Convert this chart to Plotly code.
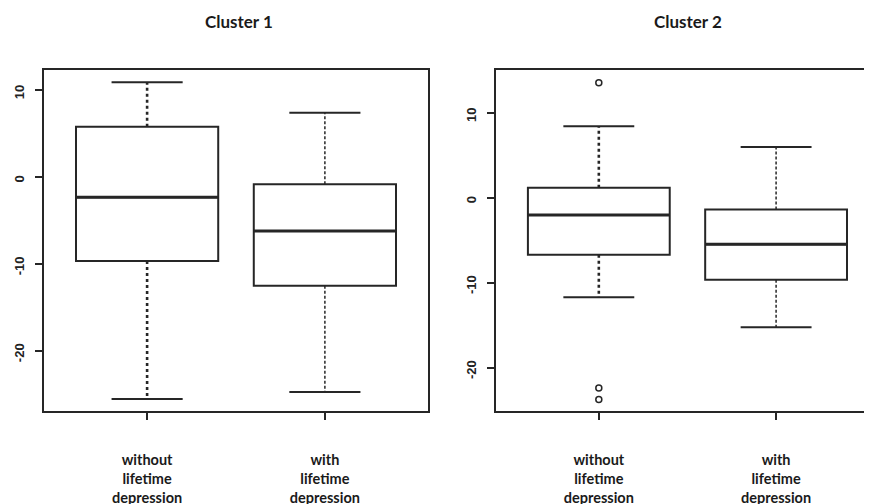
import plotly.graph_objects as go

# ---------------- data ----------------
categories = ["without lifetime depression", "with lifetime depression"]
positions = [1, 2]

c1_lower = [-25.56, -24.75]
c1_q1 = [-9.68, -12.52]
c1_median = [-2.35, -6.23]
c1_q3 = [5.78, -0.85]
c1_upper = [10.89, 7.39]

c2_lower = [-11.71, -15.25]
c2_q1 = [-6.73, -9.67]
c2_median = [-2.05, -5.47]
c2_q3 = [1.17, -1.38]
c2_upper = [8.40, 5.96]

c2_outlier_group = [1, 1, 1]
c2_outlier_values = [13.54, -22.40, -23.77]

titles = ["Cluster 1", "Cluster 2"]
y_ticks = [-20, -10, 0, 10]

# ---------------- style ----------------
INK = "#262626"
BOX_W = 0.8
CAP_HALF = 0.2
whisker_styles = [dict(dash="dot", width=2.6), dict(dash="3px,2px", width=1.5)]

fig = go.Figure()


def add_panel(xa, ya, lower, q1, med, q3, upper):
    for i, p in enumerate(positions):
        fig.add_trace(go.Box(
            x=[p], q1=[q1[i]], median=[med[i]], q3=[q3[i]],
            lowerfence=[q1[i]], upperfence=[q3[i]],
            width=BOX_W, whiskerwidth=0, fillcolor="white",
            line=dict(color=INK, width=2), xaxis=xa, yaxis=ya,
            showlegend=False, hoverinfo="skip", boxpoints=False,
        ))
        fig.add_trace(go.Scatter(
            x=[p - BOX_W / 2, p + BOX_W / 2], y=[med[i], med[i]],
            mode="lines", line=dict(color=INK, width=3),
            xaxis=xa, yaxis=ya, showlegend=False, hoverinfo="skip",
        ))
        for a, b in ((q3[i], upper[i]), (q1[i], lower[i])):
            fig.add_trace(go.Scatter(
                x=[p, p], y=[a, b], mode="lines",
                line=dict(color=INK, **whisker_styles[i]),
                xaxis=xa, yaxis=ya, showlegend=False, hoverinfo="skip",
            ))
        for v in (upper[i], lower[i]):
            fig.add_trace(go.Scatter(
                x=[p - CAP_HALF, p + CAP_HALF], y=[v, v], mode="lines",
                line=dict(color=INK, width=2),
                xaxis=xa, yaxis=ya, showlegend=False, hoverinfo="skip",
            ))


add_panel("x", "y", c1_lower, c1_q1, c1_median, c1_q3, c1_upper)
add_panel("x2", "y2", c2_lower, c2_q1, c2_median, c2_q3, c2_upper)

fig.add_trace(go.Scatter(
    x=c2_outlier_group, y=c2_outlier_values, mode="markers",
    marker=dict(symbol="circle-open", size=6, color=INK, line=dict(width=1.5)),
    xaxis="x2", yaxis="y2", showlegend=False, hoverinfo="skip",
))

ticktext = ["<b>%s</b>" % c.replace(" ", "<br>") for c in categories]
yticktext = ["<b>%d</b>" % v for v in y_ticks]
xfont = dict(family="Lato, Open Sans, sans-serif", size=14.5, color="#1a1a1a")
yfont = dict(family="Liberation Sans, Arial, sans-serif", size=13, color="#222")

common_x = dict(
    tickmode="array", tickvals=positions, ticktext=ticktext,
    ticks="outside", ticklen=7, tickwidth=1.5, tickcolor=INK,
    showline=True, linecolor=INK, linewidth=2,
    showgrid=False, zeroline=False, tickfont=xfont,
    ticklabelstandoff=28, fixedrange=True, automargin=False,
)
common_y = dict(
    tickmode="array", tickvals=y_ticks, ticktext=yticktext,
    ticks="outside", ticklen=7, tickwidth=1.5, tickcolor=INK,
    showline=True, linecolor=INK, linewidth=2,
    showgrid=False, zeroline=False, tickfont=yfont, tickangle=-90,
    ticklabelstandoff=6, ticklabelshift=4, fixedrange=True, automargin=False,
)

# page body has an 8px default margin; work in window pixels and offset
OFF = 8
W, H = 872 - OFF, 504 - OFF


def px_x(v):
    return (v - OFF) / W


def px_y(v):
    return (H - (v - OFF)) / H


tfont = dict(family="Lato, Open Sans, sans-serif", size=17, color="#1a1a1a")
fig.update_layout(
    width=W, height=H,
    margin=dict(l=0, r=0, t=0, b=0),
    paper_bgcolor="white", plot_bgcolor="white",
    xaxis=dict(domain=[px_x(44), px_x(428)], range=[0.42, 2.58], mirror=True, anchor="y", **common_x),
    yaxis=dict(domain=[px_y(411), px_y(70)], range=[-26.94, 12.30], mirror=True, anchor="x", **common_y),
    xaxis2=dict(domain=[px_x(496), 1.0], range=[0.42, 2.541], mirror=True, anchor="y2", **common_x),
    yaxis2=dict(domain=[px_y(411), px_y(70)], range=[-25.11, 15.03], mirror=False, anchor="x2", **common_y),
    annotations=[
        dict(text="<b>%s</b>" % titles[0], x=px_x(239), y=px_y(22), xref="paper", yref="paper",
             showarrow=False, xanchor="center", yanchor="middle", font=tfont),
        dict(text="<b>%s</b>" % titles[1], x=px_x(688), y=px_y(22), xref="paper", yref="paper",
             showarrow=False, xanchor="center", yanchor="middle", font=tfont),
    ],
)

fig.write_html("out.html", config={"displayModeBar": False})
